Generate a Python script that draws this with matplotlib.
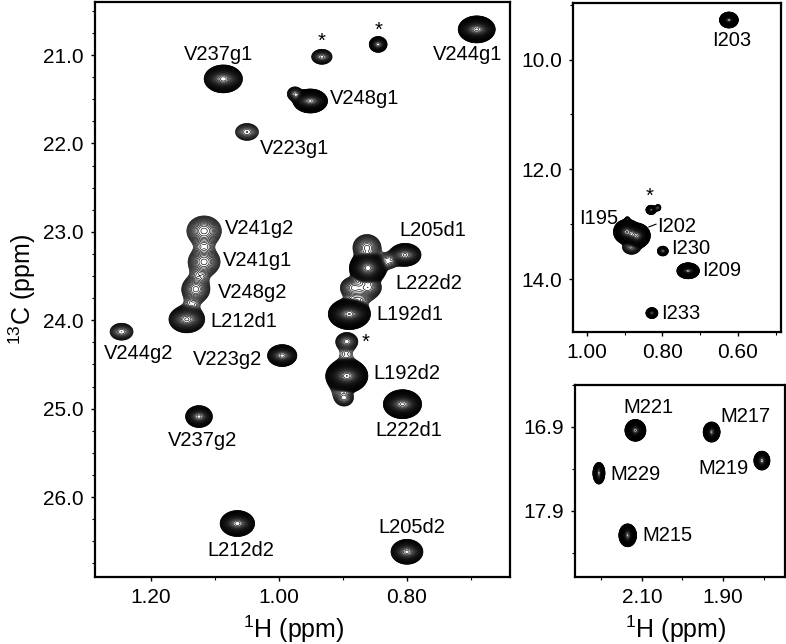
import numpy as np
import matplotlib
matplotlib.use('Agg')
import matplotlib.pyplot as plt
from matplotlib.ticker import FixedLocator, FormatStrFormatter

plt.rcParams['font.family'] = ['Liberation Sans', 'DejaVu Sans']
plt.rcParams['mathtext.default'] = 'regular'

# peak tables: 1H shift, 13C shift, half width at lowest contour (ppm), height over lowest contour
# methyl region, Val / Leu (the last ones are the weak ridges between crowded peaks)
h_vl = [0.691, 0.933, 0.845, 1.087, 0.951, 0.975, 1.050, 1.117, 1.117, 1.130, 1.144, 1.246,
        0.995, 0.890, 0.894, 0.894, 0.898, 0.807, 1.125, 1.065, 0.800, 0.803, 0.861, 0.8625,
        0.884, 0.860, 0.830, 1.117, 1.124, 1.137, 0.895, 0.905, 0.875]
c_vl = [20.71, 21.02, 20.88, 21.27, 21.52, 21.44, 21.87, 22.99, 23.34, 23.65, 23.99, 24.13,
        24.40, 23.93, 24.24, 24.63, 24.88, 24.95, 25.09, 26.30, 26.62, 23.26, 23.41, 23.18,
        23.63, 23.63, 23.33, 23.17, 23.50, 23.83, 24.42, 24.78, 23.75]
wh_vl = [.029, .016, .014, .030, .027, .012, .018, .027, .025, .022, .028, .018,
         .023, .033, .017, .033, .014, .030, .021, .027, .025, .025, .029, .022,
         .020, .020, .016, .010, .010, .010, .010, .012, .018]
wc_vl = [.153, .085, .090, .158, .136, .080, .096, .170, .160, .150, .153, .096,
         .124, .175, .100, .190, .090, .164, .124, .147, .141, .130, .190, .150,
         .120, .120, .090, .060, .060, .060, .100, .090, .080]
amp_vl = [300, 10, 25, 150, 300, 8, 6, 10, 10, 10, 50, 8,
          60, 600, 10, 800, 6, 300, 60, 150, 80, 50, 500, 10,
          8, 10, 4, 1.6, 1.6, 1.6, 1.6, 2, 2.5]

# Ile region
h_ile = [0.624, 0.830, 0.812, 0.893, 0.894, 0.868, 0.882, 0.799, 0.732, 0.828]
c_ile = [9.28, 12.74, 12.70, 12.91, 13.14, 13.21, 13.42, 13.49, 13.85, 14.62]
wh_ile = [.025, .014, .008, .006, .036, .036, .024, .0146, .030, .016]
wc_ile = [.146, .085, .060, .045, .230, .230, .130, .090, .146, .100]
amp_ile = [800, 40, 4, 2.5, 800, 800, 8, 15, 800, 60]

# Met region
h_met = [2.116, 1.928, 1.804, 2.206, 2.135]
c_met = [16.94, 16.96, 17.30, 17.45, 18.19]
wh_met = [.026, .021, .020, .015, .022]
wc_met = [.130, .120, .113, .130, .137]
amp_met = [600, 300, 100, 100, 300]

# assignments
nomes_vl = ['V237g1', 'V244g1', 'V248g1', 'V223g1', 'V241g2', 'V241g1', 'V248g2', 'L205d1', 'L222d2',
            'L212d1', 'V244g2', 'V223g2', 'L192d1', 'L192d2', 'L222d1', 'V237g2', 'L212d2', 'L205d2',
            '*', '*', '*']
xnome_vl = [1.094, 0.705, 0.866, 0.975, 1.031, 1.033, 1.042, 0.759, 0.766,
            1.055, 1.220, 1.080, 0.795, 0.800, 0.797, 1.120, 1.059, 0.792,
            0.933, 0.845, 0.864]
ynome_vl = [20.99, 20.99, 21.49, 22.06, 22.96, 23.33, 23.69, 22.98, 23.59,
            24.02, 24.38, 24.45, 23.93, 24.60, 25.25, 25.36, 26.60, 26.35,
            20.85, 20.72, 24.25]

nomes_ile = ['I203', 'I195', 'I202', 'I230', 'I209', 'I233', '*']
xnome_ile = [0.617, 0.970, 0.762, 0.724, 0.642, 0.751, 0.833]
ynome_ile = [9.66, 12.89, 13.05, 13.45, 13.85, 14.63, 12.50]

nomes_met = ['M221', 'M217', 'M219', 'M229', 'M215']
xnome_met = [2.085, 1.844, 1.898, 2.116, 2.038]
ynome_met = [16.67, 16.77, 17.40, 17.46, 18.19]

# ticks
xmaj_vl, xmin_vl = [1.2, 1.0, 0.8], [1.3 - 0.1 * i for i in range(7)]
ymaj_vl, ymin_vl = [21, 22, 23, 24, 25, 26], [20.5 + 0.25 * i for i in range(26)]
xmaj_ile, xmin_ile = [1.0, 0.8, 0.6], [0.9, 0.7, 0.5]
ymaj_ile, ymin_ile = [10, 12, 14], [9, 11, 13]
xmaj_met, xmin_met = [2.1, 1.9], [2.2, 2.0, 1.8]
ymaj_met, ymin_met = [16.9, 17.9], [16.4, 17.4, 18.4]


def espectro(xs, ys, h, c, wh, wc, amp):
    X, Y = np.meshgrid(xs, ys)
    Z = np.zeros_like(X)
    for i in range(len(h)):
        k = 2 * np.log(amp[i])
        Z += amp[i] * np.exp(-k * (((X - h[i]) / wh[i])**2 + ((Y - c[i]) / wc[i])**2) / 2)
    return X, Y, Z


largura, altura = 786, 644
fig = plt.figure(figsize=(7.86, 6.44), dpi=100)
niveis = 1.16**np.arange(0, 60)

paineis = [
    # caixa em pixels, limites, ticks
    dict(box=(95, 2, 510, 577), xlim=(1.2875, 0.639), ylim=(26.905, 20.40),
         xt=(xmaj_vl, xmin_vl), yt=(ymaj_vl, ymin_vl),
         picos=(h_vl, c_vl, wh_vl, wc_vl, amp_vl), nomes=(nomes_vl, xnome_vl, ynome_vl)),
    dict(box=(573, 3, 781, 332), xlim=(1.037, 0.486), ylim=(14.965, 8.97),
         xt=(xmaj_ile, xmin_ile), yt=(ymaj_ile, ymin_ile),
         picos=(h_ile, c_ile, wh_ile, wc_ile, amp_ile), nomes=(nomes_ile, xnome_ile, ynome_ile)),
    dict(box=(575, 385, 785, 577), xlim=(2.265, 1.747), ylim=(18.686, 16.4),
         xt=(xmaj_met, xmin_met), yt=(ymaj_met, ymin_met),
         picos=(h_met, c_met, wh_met, wc_met, amp_met), nomes=(nomes_met, xnome_met, ynome_met)),
]

eixos = []
for p in paineis:
    x0, y0, x1, y1 = p['box']
    ax = fig.add_axes([x0 / largura, 1 - y1 / altura, (x1 - x0) / largura, (y1 - y0) / altura])
    xs = np.linspace(min(p['xlim']), max(p['xlim']), 1300)
    ys = np.linspace(min(p['ylim']), max(p['ylim']), 1300)
    X, Y, Z = espectro(xs, ys, *p['picos'])
    ax.contour(X, Y, Z, levels=niveis, colors='k', linewidths=0.45)
    ax.set_xlim(p['xlim'])
    ax.set_ylim(p['ylim'])
    ax.xaxis.set_major_locator(FixedLocator(p['xt'][0]))
    ax.xaxis.set_minor_locator(FixedLocator(p['xt'][1]))
    ax.yaxis.set_major_locator(FixedLocator(p['yt'][0]))
    ax.yaxis.set_minor_locator(FixedLocator(p['yt'][1]))
    ax.xaxis.set_major_formatter(FormatStrFormatter('%.2f'))
    ax.yaxis.set_major_formatter(FormatStrFormatter('%.1f'))
    ax.tick_params(which='major', length=3, width=1, labelsize=15, pad=5)
    ax.tick_params(which='minor', length=2, width=0.8)
    for lado in ax.spines.values():
        lado.set_linewidth(1.6)
    nomes, xn, yn = p['nomes']
    for nome, xi, yi in zip(nomes, xn, yn):
        ax.text(xi, yi, nome, fontsize=14.5, ha='center', va='center')
    eixos.append(ax)

# tracinho do I202
eixos[1].plot([0.836, 0.817], [13.05, 13.00], color='k', lw=0.8)

eixos[0].set_xlabel('$^{1}$H (ppm)', fontsize=18, labelpad=5, x=0.48)
eixos[0].set_ylabel('$^{13}$C (ppm)', fontsize=18, labelpad=4)
eixos[2].set_xlabel('$^{1}$H (ppm)', fontsize=18, labelpad=5, x=0.48)

fig.savefig('out.png', dpi=100)
